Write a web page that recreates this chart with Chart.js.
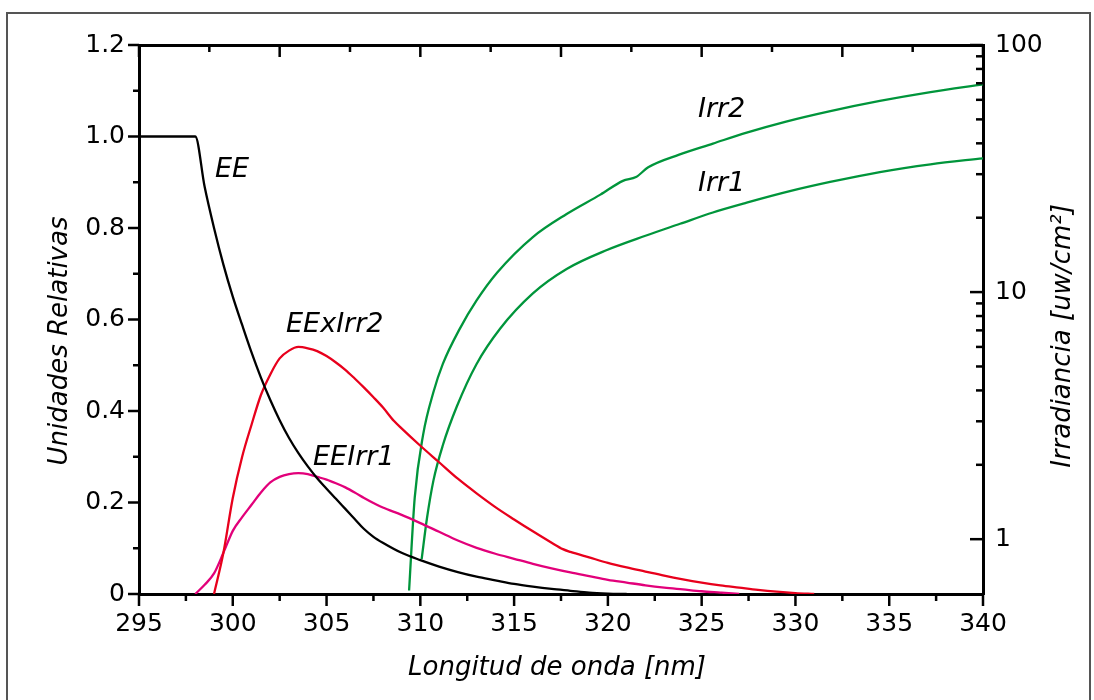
<!DOCTYPE html>
<html>
<head>
<meta charset="utf-8">
<script src="https://cdn.jsdelivr.net/npm/chart.js@4.4.0/dist/chart.umd.min.js"></script>
<style>
  html, body { margin: 0; padding: 0; background: #fff; }
  #wrap { width: 1094px; height: 700px; }
</style>
</head>
<body>
<div id="wrap"><canvas id="myChart" width="1094" height="700"></canvas></div>
<script>
Chart.defaults.font.family = 'DejaVu Sans';
Chart.defaults.color = '#000';

// EE (Unidades Relativas)
const eeNm = [295, 298, 298.5, 299, 299.5, 300, 300.5, 301, 301.5, 302, 302.5, 303, 303.5, 304, 304.5, 305, 305.5, 306, 306.5, 307, 307.5, 308, 309, 310, 311, 312, 313, 314, 315, 316, 317, 318, 319, 320, 321];
const eeVal = [1.0, 1.0, 0.89, 0.80, 0.72, 0.65, 0.588, 0.528, 0.473, 0.424, 0.38, 0.341, 0.308, 0.279, 0.253, 0.23, 0.208, 0.186, 0.164, 0.142, 0.125, 0.112, 0.09, 0.074, 0.06, 0.048, 0.038, 0.03, 0.022, 0.016, 0.011, 0.007, 0.003, 0.001, 0];

// EExIrr2
const eeIrr2Nm = [299, 299.5, 300, 300.5, 301, 301.5, 302, 302.5, 303, 303.5, 304, 304.5, 305, 305.5, 306, 306.5, 307, 307.5, 308, 308.6, 309, 310, 311, 312, 313, 314, 315, 316, 317, 317.6, 318, 319, 320, 321, 322, 323, 324, 325, 326, 327, 328, 329, 330, 331];
const eeIrr2Val = [0.0, 0.09, 0.21, 0.30, 0.37, 0.435, 0.48, 0.515, 0.532, 0.54, 0.537, 0.531, 0.52, 0.506, 0.49, 0.471, 0.451, 0.43, 0.408, 0.378, 0.362, 0.324, 0.288, 0.252, 0.22, 0.19, 0.163, 0.137, 0.112, 0.098, 0.092, 0.08, 0.068, 0.058, 0.049, 0.04, 0.032, 0.025, 0.019, 0.014, 0.009, 0.005, 0.002, 0.0];

// EEIrr1
const eeIrr1Nm = [298, 298.5, 299, 299.5, 300, 300.5, 301, 301.5, 302, 302.5, 303, 303.5, 304, 304.5, 305, 305.5, 306, 306.5, 307, 307.5, 308, 309, 310, 311, 312, 313, 314, 315, 316, 317, 318, 319, 320, 321, 322, 323, 324, 325, 326, 327];
const eeIrr1Val = [0, 0.02, 0.045, 0.09, 0.138, 0.168, 0.195, 0.222, 0.244, 0.256, 0.262, 0.264, 0.262, 0.256, 0.25, 0.242, 0.233, 0.222, 0.21, 0.199, 0.189, 0.173, 0.155, 0.136, 0.117, 0.101, 0.088, 0.077, 0.066, 0.056, 0.047, 0.039, 0.031, 0.025, 0.019, 0.014, 0.01, 0.006, 0.003, 0.0];

// Irr2 and Irr1 (Irradiancia, log axis)
const irr2Nm = [309.4, 309.7, 310.15, 310.7, 311.2, 312.1, 313, 314.1, 316, 317.8, 319.6, 320.8, 321.5, 322.15, 323.8, 325.6, 327.4, 329.5, 331.8, 334.5, 337.2, 340];
const irr2Val = [0.62, 1.47, 2.65, 3.94, 5.12, 7.1, 9.25, 12.0, 16.7, 20.7, 24.8, 28.2, 29.2, 32.0, 36.0, 39.9, 44.2, 49.0, 53.9, 59.4, 64.5, 69.3];
const irr1Nm = [310.07, 310.35, 310.7, 311.2, 311.95, 313, 314.25, 316, 317.8, 319.95, 322.0, 323.85, 325.6, 327.4, 329.7, 331.85, 334.5, 337.2, 340];
const irr1Val = [0.83, 1.21, 1.73, 2.40, 3.45, 5.12, 7.11, 9.88, 12.4, 14.8, 16.9, 18.9, 21.0, 23.0, 25.6, 27.9, 30.6, 32.9, 34.8];

// tick values of the right (log) axis
const irrTicks = [1, 2, 3, 4, 5, 6, 7, 8, 9, 10, 20, 30, 40, 50, 60, 70, 80, 90, 100];
const irrLabels = [1, 10, 100];

// curve names, anchored in data units (nm, Unidades Relativas)
const curveNames = ['EE', 'EExIrr2', 'EEIrr1', 'Irr2', 'Irr1'];
const nameNm = [299.05, 302.84, 304.28, 324.8, 324.8];
const nameVal = [0.927, 0.588, 0.297, 1.058, 0.896];

const pts = (xs, ys) => xs.map((x, i) => ({ x: x, y: ys[i] }));
const isMult = (v, step) => Math.abs(v / step - Math.round(v / step)) < 1e-6;

const axisDecor = {
    id: 'axisDecor',
    beforeDraw(chart) {
        const ctx = chart.ctx;
        ctx.save();
        ctx.strokeStyle = '#555';
        ctx.lineWidth = 2;
        ctx.strokeRect(7, 13, 1083, 720);
        ctx.restore();
    },
    afterDraw(chart) {
        const ctx = chart.ctx;
        const a = chart.chartArea;
        const s = chart.scales;
        const line = (x1, y1, x2, y2) => {
            ctx.beginPath();
            ctx.moveTo(x1, y1);
            ctx.lineTo(x2, y2);
            ctx.stroke();
        };
        ctx.save();
        ctx.strokeStyle = '#000';
        ctx.lineWidth = 2.5;
        s.x.ticks.forEach(t => {
            const px = s.x.getPixelForValue(t.value);
            line(px, a.bottom, px, a.bottom + (isMult(t.value, 5) ? 12 : 7));
        });
        s.x2.ticks.forEach((t, i) => {
            const px = s.x2.getPixelForValue(t.value);
            line(px, a.top, px, a.top + (i % 2 === 0 ? 12 : 7));
        });
        s.y.ticks.forEach(t => {
            const py = s.y.getPixelForValue(t.value);
            line(a.left, py, a.left - (isMult(t.value, 0.2) ? 11 : 6), py);
        });
        s.y2.ticks.forEach(t => {
            const py = s.y2.getPixelForValue(t.value);
            line(a.right, py, a.right - (irrLabels.includes(t.value) ? 13 : 7), py);
        });

        ctx.fillStyle = '#000';
        ctx.font = 'italic 27px "DejaVu Sans"';
        ctx.textBaseline = 'middle';
        ctx.textAlign = 'left';
        curveNames.forEach((n, i) => {
            ctx.fillText(n, s.x.getPixelForValue(nameNm[i]), s.y.getPixelForValue(nameVal[i]));
        });

        // axis titles
        ctx.font = 'italic 26px "DejaVu Sans"';
        ctx.textAlign = 'center';
        ctx.fillText('Longitud de onda [nm]', (a.left + a.right) / 2 - 4, 668);
        ctx.save();
        ctx.translate(60, 341);
        ctx.rotate(-Math.PI / 2);
        ctx.fillText('Unidades Relativas', 0, 0);
        ctx.restore();
        ctx.save();
        ctx.translate(1063, 336);
        ctx.rotate(-Math.PI / 2);
        ctx.fillText('Irradiancia [uw/cm\u00B2]', 0, 0);
        ctx.restore();
        ctx.restore();
    }
};

const lineSet = (label, data, color, axis) => ({
    label: label,
    data: data,
    yAxisID: axis,
    borderColor: color,
    backgroundColor: color,
    borderWidth: 2.3,
    pointRadius: 0,
    fill: false,
    cubicInterpolationMode: 'monotone'
});

const ctx = document.getElementById('myChart');
const myChart = new Chart(ctx, {
    type: 'line',
    data: {
        datasets: [
            lineSet('EE', pts(eeNm, eeVal), '#000000', 'y'),
            lineSet('EExIrr2', pts(eeIrr2Nm, eeIrr2Val), '#e8001c', 'y'),
            lineSet('EEIrr1', pts(eeIrr1Nm, eeIrr1Val), '#e2007a', 'y'),
            lineSet('Irr2', pts(irr2Nm, irr2Val), '#00953b', 'y2'),
            lineSet('Irr1', pts(irr1Nm, irr1Val), '#00953b', 'y2')
        ]
    },
    options: {
        responsive: false,
        animation: false,
        devicePixelRatio: 1,
        layout: { padding: 0 },
        plugins: {
            legend: { display: false },
            tooltip: { enabled: false }
        },
        scales: {
            x: {
                type: 'linear',
                position: 'bottom',
                min: 295,
                max: 340,
                afterFit: (sc) => { sc.height = 106; },
                border: { display: true, color: '#000', width: 3 },
                grid: { drawOnChartArea: false, drawTicks: false },
                ticks: {
                    stepSize: 2.5,
                    autoSkip: false,
                    maxRotation: 0,
                    padding: 15,
                    font: { size: 25 },
                    callback: (v) => isMult(v, 5) ? String(v) : ''
                }
            },
            x2: {
                type: 'linear',
                position: 'top',
                min: 295,
                max: 340,
                afterFit: (sc) => { sc.height = 45; },
                border: { display: true, color: '#000', width: 3 },
                grid: { drawOnChartArea: false, drawTicks: false },
                ticks: { stepSize: 3.75, display: false }
            },
            y: {
                type: 'linear',
                position: 'left',
                min: 0,
                max: 1.2,
                afterFit: (sc) => { sc.width = 139; },
                border: { display: true, color: '#000', width: 3 },
                grid: { drawOnChartArea: false, drawTicks: false },
                ticks: {
                    stepSize: 0.1,
                    autoSkip: false,
                    padding: 14,
                    font: { size: 25 },
                    callback: (v) => isMult(v, 0.2) ? (v === 0 ? '0' : v.toFixed(1)) : ''
                }
            },
            y2: {
                type: 'logarithmic',
                position: 'right',
                min: 0.645,
                max: 100,
                afterFit: (sc) => { sc.width = 111; },
                afterBuildTicks: (sc) => { sc.ticks = irrTicks.map(v => ({ value: v })); },
                border: { display: true, color: '#000', width: 3 },
                grid: { drawOnChartArea: false, drawTicks: false },
                ticks: {
                    autoSkip: false,
                    padding: 12,
                    font: { size: 25 },
                    callback: (v) => irrLabels.includes(v) ? String(v) : ''
                }
            }
        }
    },
    plugins: [axisDecor]
});
</script>
</body>
</html>
